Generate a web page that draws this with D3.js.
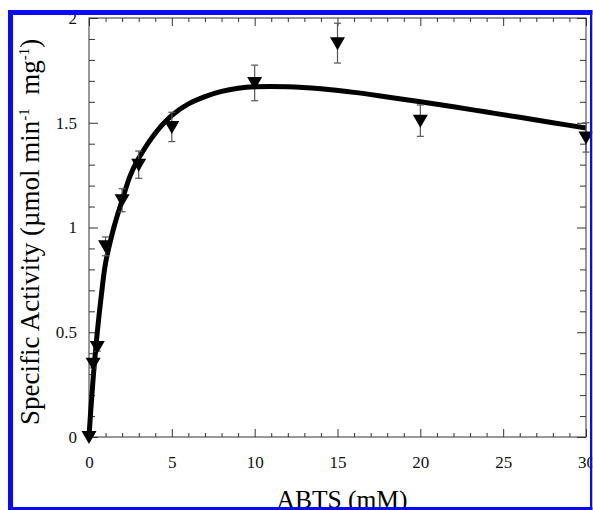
<!DOCTYPE html>
<html>
<head>
<meta charset="utf-8">
<script src="https://cdn.jsdelivr.net/npm/d3@7"></script>
<style>
  html, body { margin: 0; padding: 0; background: #fff; }
  svg { display: block; font-family: "Liberation Serif", "Times New Roman", serif; }
</style>
</head>
<body>
<div id="chart"></div>
<script>
// measured points (ABTS in mM, specific activity, error)
const abts = [0, 0.25, 0.5, 1, 2, 3, 5, 10, 15, 20, 30];
const activity = [0, 0.35, 0.43, 0.91, 1.13, 1.30, 1.48, 1.69, 1.88, 1.51, 1.43];
const errors = [0, 0.02, 0.02, 0.045, 0.055, 0.065, 0.07, 0.085, 0.095, 0.075, 0.07];

// fitted curve
const fitX = [0, 0.1, 0.25, 0.5, 0.75, 1, 1.5, 2, 2.5, 3, 4, 5, 6, 7, 8, 9, 10, 12, 14, 16, 18, 20, 22, 24, 26, 28, 30];
const fitY = [0, 0.12, 0.28, 0.5, 0.68, 0.83, 1.0, 1.13, 1.25, 1.33, 1.45, 1.535, 1.59, 1.625, 1.65, 1.665, 1.672, 1.672, 1.662, 1.645, 1.623, 1.6, 1.576, 1.551, 1.526, 1.5, 1.475];

const xMajor = [0, 5, 10, 15, 20, 25, 30];
const yMajor = [0, 0.5, 1, 1.5, 2];

const width = 593;
const height = 510;
const plot = { left: 89, right: 586, top: 18, bottom: 437 };

const svg = d3
  .select("#chart")
  .append("svg")
  .attr("width", width)
  .attr("height", height);

const x = d3.scaleLinear().domain([0, 30]).range([plot.left, plot.right]);
const y = d3.scaleLinear().domain([0, 2]).range([plot.bottom, plot.top]);

const xMinor = d3.range(0, 31, 1).filter(d => d % 5 !== 0);
const yMinor = d3.range(0, 21, 1).map(d => d / 10).filter(d => Math.round(d * 10) % 5 !== 0);

const axisColor = "#333";

function styleAxis(g) {
  g.select(".domain").remove();
  g.selectAll(".tick line").attr("stroke", axisColor);
  g.selectAll(".tick text")
    .attr("fill", "#111")
    .style("font-family", "'Liberation Serif', serif")
    .style("font-size", "17px");
}

// bottom
svg.append("g")
  .attr("transform", `translate(0, ${plot.bottom})`)
  .call(d3.axisBottom(x).tickValues(xMajor).tickSize(-8).tickSizeOuter(0).tickPadding(19).tickFormat(d3.format("d")))
  .call(styleAxis);
svg.append("g")
  .attr("transform", `translate(0, ${plot.bottom})`)
  .call(d3.axisBottom(x).tickValues(xMinor).tickSize(-4).tickSizeOuter(0).tickFormat(""))
  .call(styleAxis);
// top
svg.append("g")
  .attr("transform", `translate(0, ${plot.top})`)
  .call(d3.axisTop(x).tickValues(xMajor).tickSize(-8).tickSizeOuter(0).tickFormat(""))
  .call(styleAxis);
svg.append("g")
  .attr("transform", `translate(0, ${plot.top})`)
  .call(d3.axisTop(x).tickValues(xMinor).tickSize(-4).tickSizeOuter(0).tickFormat(""))
  .call(styleAxis);
// left
svg.append("g")
  .attr("transform", `translate(${plot.left}, 0)`)
  .call(d3.axisLeft(y).tickValues(yMajor).tickSize(-9).tickSizeOuter(0).tickPadding(12).tickFormat(d3.format("")))
  .call(styleAxis);
svg.append("g")
  .attr("transform", `translate(${plot.left}, 0)`)
  .call(d3.axisLeft(y).tickValues(yMinor).tickSize(-6).tickSizeOuter(0).tickFormat(""))
  .call(styleAxis);
// right
svg.append("g")
  .attr("transform", `translate(${plot.right}, 0)`)
  .call(d3.axisRight(y).tickValues(yMajor).tickSize(-9).tickSizeOuter(0).tickFormat(""))
  .call(styleAxis);
svg.append("g")
  .attr("transform", `translate(${plot.right}, 0)`)
  .call(d3.axisRight(y).tickValues(yMinor).tickSize(-6).tickSizeOuter(0).tickFormat(""))
  .call(styleAxis);

svg.append("rect")
  .attr("x", plot.left)
  .attr("y", plot.top)
  .attr("width", plot.right - plot.left)
  .attr("height", plot.bottom - plot.top)
  .attr("fill", "none")
  .attr("stroke", axisColor)
  .attr("stroke-width", 1);

// fitted curve
const line = d3.line()
  .x((d, i) => x(fitX[i]))
  .y(d => y(d))
  .curve(d3.curveCatmullRom.alpha(0.5));

svg.append("path")
  .datum(fitY)
  .attr("d", line)
  .attr("fill", "none")
  .attr("stroke", "#000")
  .attr("stroke-width", 5)
  .attr("stroke-linejoin", "round");

// error bars
const points = abts.map((d, i) => ({ x: d, y: activity[i], e: errors[i] }));

const err = svg.append("g")
  .attr("stroke", "#555")
  .attr("stroke-width", 1.2);

points.filter(d => d.e > 0).forEach(function(d) {
  const cx = x(d.x);
  err.append("line")
    .attr("x1", cx).attr("x2", cx)
    .attr("y1", y(d.y + d.e)).attr("y2", y(d.y - d.e));
  [d.y + d.e, d.y - d.e].forEach(function(v) {
    err.append("line")
      .attr("x1", cx - 3.5).attr("x2", cx + 3.5)
      .attr("y1", y(v)).attr("y2", y(v));
  });
});

// down triangles
svg.append("g")
  .selectAll("path")
  .data(points)
  .enter()
  .append("path")
  .attr("transform", d => `translate(${x(d.x)}, ${y(d.y)})`)
  .attr("d", "M-7.5,-6L7.5,-6L0,7Z")
  .attr("fill", "#000");

// axis titles
svg.append("text")
  .attr("x", 342)
  .attr("y", 508)
  .attr("text-anchor", "middle")
  .style("font-size", "25.5px")
  .attr("fill", "#000")
  .text("ABTS (mM)");

const yTitle = svg.append("text")
  .attr("transform", "translate(39, 425) rotate(-90)")
  .attr("text-anchor", "start")
  .style("font-size", "27px")
  .attr("fill", "#000");
yTitle.append("tspan").text("Specific Activity (\u00b5mol min");
yTitle.append("tspan").attr("dy", -10).style("font-size", "15px").text("-1");
yTitle.append("tspan").attr("dy", 10).text("\u00a0 mg");
yTitle.append("tspan").attr("dy", -10).style("font-size", "15px").text("-1");
yTitle.append("tspan").attr("dy", 10).text(")");

// blue frame
const blue = "#0a0af5";
svg.append("rect").attr("x", 8).attr("y", 10).attr("width", 585).attr("height", 5).attr("fill", blue);
svg.append("rect").attr("x", 8).attr("y", 10).attr("width", 5).attr("height", 500).attr("fill", blue);
svg.append("rect").attr("x", 590).attr("y", 10).attr("width", 2.5).attr("height", 500).attr("fill", blue);
svg.append("rect").attr("x", 8).attr("y", 507).attr("width", 585).attr("height", 3).attr("fill", blue);
svg.append("rect").attr("x", 592.5).attr("y", 0).attr("width", 1).attr("height", 510).attr("fill", "#fff");
</script>
</body>
</html>
